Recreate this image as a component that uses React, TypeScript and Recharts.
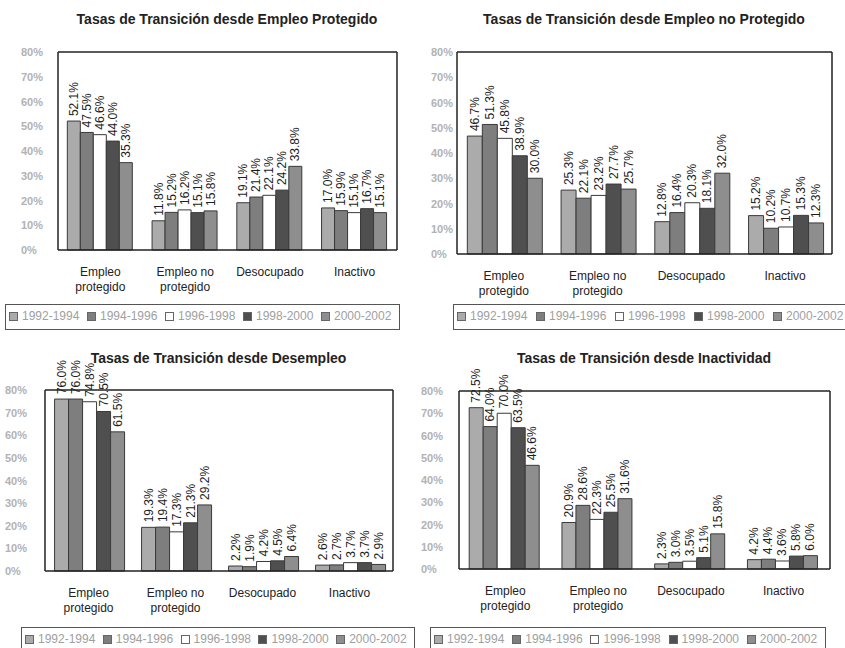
import { BarChart, Bar, XAxis, YAxis, Legend, LabelList } from 'recharts';

const categories = ['Empleo protegido', 'Empleo no protegido', 'Desocupado', 'Inactivo'];
const periods = ['1992-1994', '1994-1996', '1996-1998', '1998-2000', '2000-2002'];
const yTicks = [0, 10, 20, 30, 40, 50, 60, 70, 80];

// one row per period, values in category order
const desdeProtegido = [
  [52.1, 11.8, 19.1, 17.0],
  [47.5, 15.2, 21.4, 15.9],
  [46.6, 16.2, 22.1, 15.1],
  [44.0, 15.1, 24.2, 16.7],
  [35.3, 15.8, 33.8, 15.1],
];
const desdeNoProtegido = [
  [46.7, 25.3, 12.8, 15.2],
  [51.3, 22.1, 16.4, 10.2],
  [45.8, 23.2, 20.3, 10.7],
  [38.9, 27.7, 18.1, 15.3],
  [30.0, 25.7, 32.0, 12.3],
];
const desdeDesempleo = [
  [76.0, 19.3, 2.2, 2.6],
  [76.0, 19.4, 1.9, 2.7],
  [74.8, 17.3, 4.2, 3.7],
  [70.5, 21.3, 4.5, 3.7],
  [61.5, 29.2, 6.4, 2.9],
];
const desdeInactividad = [
  [72.5, 20.9, 2.3, 4.2],
  [64.0, 28.6, 3.0, 4.4],
  [70.0, 22.3, 3.5, 3.6],
  [63.5, 25.5, 5.1, 5.8],
  [46.6, 31.6, 15.8, 6.0],
];

const colors = ['#ababab', '#7e7e7e', '#ffffff', '#4f4f4f', '#8e8e8e'];
const frame = { stroke: '#222', strokeWidth: 1.5 };

const tickLines: Record<string, string[]> = {
  'Empleo protegido': ['Empleo', 'protegido'],
  'Empleo no protegido': ['Empleo no', 'protegido'],
  Desocupado: ['Desocupado'],
  Inactivo: ['Inactivo'],
};

const CategoryTick = ({ x, y, payload }: any) => {
  const lines = tickLines[payload.value] ?? [payload.value];
  return (
    <text x={x} y={y} textAnchor="middle" fontSize={12} fill="#222">
      {lines.map((l, i) => (
        <tspan key={l} x={x} dy={i === 0 ? 24 : 15}>
          {l}
        </tspan>
      ))}
    </text>
  );
};

const ValueLabel = (props: any) => {
  const { x, y, width, value } = props;
  const cx = Number(x) + Number(width) / 2;
  const ty = Number(y) - 5;
  return (
    <text
      x={cx}
      y={ty}
      transform={`rotate(-90 ${cx} ${ty})`}
      textAnchor="start"
      dominantBaseline="central"
      fontSize={12}
      fill="#1e1e1e"
    >
      {`${Number(value).toFixed(1)}%`}
    </text>
  );
};

const renderLegend = (props: any) => (
  <div
    style={{
      border: '1px solid #555',
      height: 26,
      boxSizing: 'border-box',
      display: 'flex',
      alignItems: 'flex-start',
      paddingTop: 4,
      paddingLeft: 3,
      background: '#fff',
    }}
  >
    {(props.payload ?? []).map((e: any) => (
      <span
        key={e.value}
        style={{ width: 80, display: 'flex', alignItems: 'center', gap: 4, color: '#a0a0a0', fontSize: 12, lineHeight: '14px' }}
      >
        <span style={{ width: 7, height: 7, background: e.color, border: '1px solid #666', flex: 'none' }} />
        {e.value}
      </span>
    ))}
  </div>
);

type PanelProps = {
  title: string;
  values: number[][];
  left: number;
  top: number;
  width: number;
  height: number;
  margin: { top: number; right: number; bottom: number; left: number };
  yAxisWidth: number;
  yLabelInset: number;
  titleY: number;
  legendBox: { left: number; top: number; width: number };
};

function Panel(p: PanelProps) {
  const rows = categories.map((c, ci) => {
    const row: Record<string, string | number> = { cat: c };
    p.values.forEach((serie, si) => {
      row[`p${si}`] = serie[ci];
    });
    return row;
  });
  const plotLeft = p.margin.left + p.yAxisWidth;
  const plotRight = p.width - p.margin.right - 1;

  return (
    <div style={{ position: 'absolute', left: p.left, top: p.top, width: p.width, height: p.height, overflow: 'hidden' }}>
      <div
        style={{
          position: 'absolute',
          top: p.titleY - 10,
          left: plotLeft - 40,
          width: plotRight - plotLeft + 80,
          textAlign: 'center',
          fontWeight: 'bold',
          fontSize: 14,
          color: '#222',
          lineHeight: '20px',
        }}
      >
        {p.title}
      </div>
      <BarChart
        width={p.width}
        height={p.height}
        data={rows}
        margin={{ ...p.margin, top: p.margin.top - 1, right: p.margin.right - 1 }}
        barCategoryGap="11%"
        barGap={0}
      >
        <XAxis dataKey="cat" axisLine={frame} tickLine={false} tickSize={0} tick={<CategoryTick />} height={44} interval={0} />
        <XAxis xAxisId="top" dataKey="cat" orientation="top" height={1} tick={false} tickLine={false} axisLine={frame} />
        <YAxis
          domain={[0, 80]}
          ticks={yTicks}
          interval={0}
          width={p.yAxisWidth}
          axisLine={frame}
          tickLine={false}
          tickSize={0}
          tick={({ x, y, payload }: any) => (
            <text x={x - p.yLabelInset} y={y} dy={4} textAnchor="start" fontSize={11} fontWeight="bold" fill="#b2b2b2">
              {`${payload.value}%`}
            </text>
          )}
        />
        <YAxis yAxisId="r" orientation="right" domain={[0, 80]} width={1} tick={false} tickLine={false} axisLine={frame} />
        <Legend
          layout="horizontal"
          verticalAlign="middle"
          align="center"
          content={renderLegend}
          wrapperStyle={{ left: p.legendBox.left, top: p.legendBox.top, width: p.legendBox.width }}
        />
        {periods.map((name, i) => (
          <Bar key={name} dataKey={`p${i}`} name={name} fill={colors[i]} stroke="#3a3a3a" strokeWidth={1} isAnimationActive={false}>
            <LabelList dataKey={`p${i}`} content={<ValueLabel />} />
          </Bar>
        ))}
      </BarChart>
    </div>
  );
}

export default function App() {
  return (
    <div
      style={{
        position: 'absolute',
        left: 0,
        top: 0,
        width: 845,
        height: 648,
        background: '#fff',
        fontFamily: '"Liberation Sans", Arial, sans-serif',
        overflow: 'hidden',
      }}
    >
      <Panel
        title="Tasas de Transición desde Empleo Protegido"
        values={desdeProtegido}
        left={0}
        top={0}
        width={420}
        height={330}
        margin={{ top: 52, right: 23, bottom: 36, left: 8 }}
        yAxisWidth={50}
        yLabelInset={35}
        titleY={19}
        legendBox={{ left: 5, top: 304, width: 395 }}
      />
      <Panel
        title="Tasas de Transición desde Empleo no Protegido"
        values={desdeNoProtegido}
        left={420}
        top={0}
        width={425}
        height={330}
        margin={{ top: 52, right: 13, bottom: 32, left: 7 }}
        yAxisWidth={30}
        yLabelInset={24}
        titleY={19}
        legendBox={{ left: 33, top: 304, width: 400 }}
      />
      <Panel
        title="Tasas de Transición desde Desempleo"
        values={desdeDesempleo}
        left={0}
        top={330}
        width={420}
        height={318}
        margin={{ top: 60, right: 27, bottom: 33, left: 5 }}
        yAxisWidth={40}
        yLabelInset={38}
        titleY={28}
        legendBox={{ left: 21, top: 297, width: 394 }}
      />
      <Panel
        title="Tasas de Transición desde Inactividad"
        values={desdeInactividad}
        left={420}
        top={330}
        width={425}
        height={318}
        margin={{ top: 61, right: 15, bottom: 35, left: 3 }}
        yAxisWidth={36}
        yLabelInset={36}
        titleY={28}
        legendBox={{ left: 10, top: 297, width: 396 }}
      />
    </div>
  );
}
